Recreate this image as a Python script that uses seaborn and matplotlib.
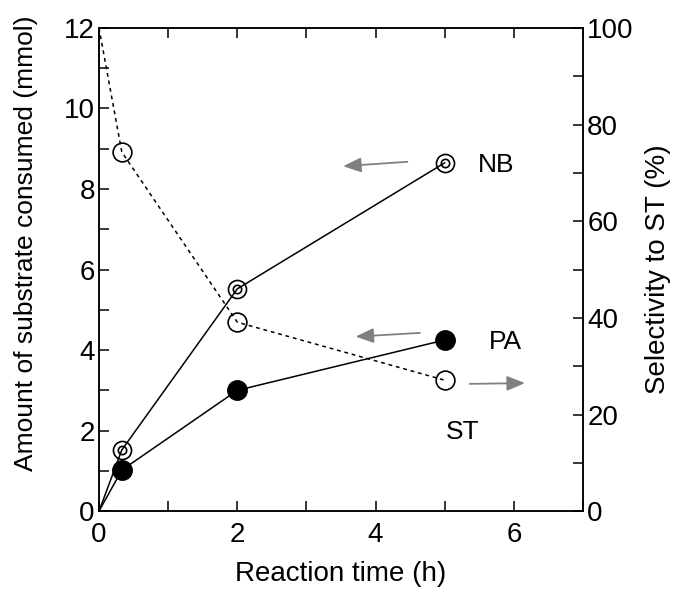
import matplotlib
matplotlib.use('Agg')
import matplotlib.pyplot as plt
from matplotlib.ticker import MultipleLocator
import seaborn as sns
import pandas as pd

# reaction time (h)
time = [0, 0.33, 2, 5]
# amount consumed (mmol)
nb = [0, 1.52, 5.52, 8.65]
pa = [0, 1.02, 3.0, 4.25]
# selectivity to ST (%)
st = [100, 74.3, 39.1, 27.1]

df = pd.DataFrame({'t': time, 'NB': nb, 'PA': pa, 'ST': st})
pts = df[df.t > 0]

sns.set_style('ticks', {'axes.edgecolor': 'black', 'text.color': 'black',
                        'axes.labelcolor': 'black', 'xtick.color': 'black',
                        'ytick.color': 'black'})
plt.rcParams['font.family'] = ['Liberation Sans', 'DejaVu Sans']

fig = plt.figure(figsize=(6.78, 5.93), dpi=100)
ax = fig.add_axes([0.146, 0.138, 0.714, 0.815])
ax2 = ax.twinx()

# left axis: NB and PA
sns.lineplot(x='t', y='NB', data=df, color='black', lw=1.1, ax=ax)
sns.lineplot(x='t', y='PA', data=df, color='black', lw=1.1, ax=ax)
ax.plot(pts.t, pts.NB, 'o', ms=13, mfc='none', mec='black', mew=1.2)
ax.plot(pts.t, pts.NB, 'o', ms=6, mfc='none', mec='black', mew=1.2)
ax.plot(pts.t, pts.PA, 'o', ms=14, mfc='black', mec='black')

# right axis: ST selectivity
sns.lineplot(x='t', y='ST', data=df, color='black', lw=1.1, ax=ax2)
ax2.lines[-1].set_linestyle((0, (2.5, 2.5)))
ax2.plot(pts.t, pts.ST, 'o', ms=13.5, mfc='none', mec='black', mew=1.2)

ax.set_xlim(0, 7)
ax.set_ylim(0, 12)
ax2.set_ylim(0, 100)
ax.xaxis.set_major_locator(MultipleLocator(2))
ax.xaxis.set_minor_locator(MultipleLocator(1))
ax.yaxis.set_major_locator(MultipleLocator(2))
ax.yaxis.set_minor_locator(MultipleLocator(1))
ax2.yaxis.set_major_locator(MultipleLocator(20))
ax2.yaxis.set_minor_locator(MultipleLocator(10))

fs = 20
ax.tick_params(axis='both', which='both', direction='in', labelsize=fs, width=1.1,
               length=7, top=True, pad=3, colors='black')
ax.tick_params(axis='x', which='both', pad=8)
ax2.tick_params(which='both', direction='in', labelsize=fs, width=1.1, length=7,
                pad=3, colors='black')
for a in (ax, ax2):
    for s in a.spines.values():
        s.set_linewidth(1.1)
        s.set_color('black')

ax.set_xlabel('Reaction time (h)', fontsize=fs, labelpad=9, color='black')
ax.set_ylabel('Amount of substrate consumed (mmol)', fontsize=19, color='black')
ax.yaxis.set_label_coords(-0.125, 0.555)
ax2.set_ylabel('Selectivity to ST (%)', fontsize=fs, labelpad=8, color='black')

# arrows and labels
arrow = dict(arrowstyle='-|>,head_length=1.1,head_width=0.45', color='#808080', lw=1.3)
ax.annotate('', xy=(3.49, 8.56), xytext=(4.5, 8.68), arrowprops=arrow)
ax.annotate('', xy=(3.67, 4.33), xytext=(4.68, 4.43), arrowprops=arrow)
ax.annotate('', xy=(6.2, 3.18), xytext=(5.32, 3.16), arrowprops=arrow)
ax.text(5.74, 8.6, 'NB', fontsize=19, ha='center', va='center', color='black')
ax.text(5.88, 4.2, 'PA', fontsize=19, ha='center', va='center', color='black')
ax.text(5.26, 1.97, 'ST', fontsize=19, ha='center', va='center', color='black')

fig.savefig('out.png', dpi=100)
